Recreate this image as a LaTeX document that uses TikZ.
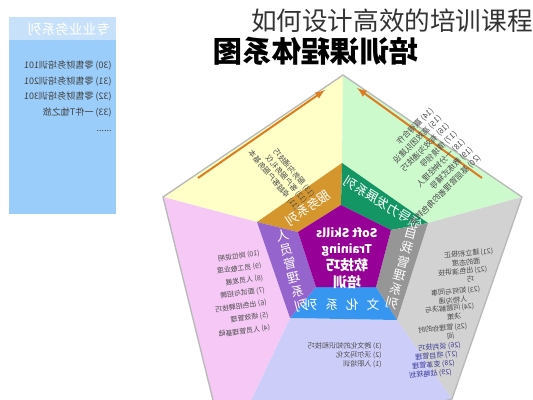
\documentclass[tikz,border=0pt]{standalone}
\usepackage{fontspec}
\setmainfont{Noto Sans CJK SC}
\usepackage{graphicx}
\usepackage{xcolor}
\usepackage{tikz}

\definecolor{outyellow}{RGB}{255,255,200}
\definecolor{outgreen}{RGB}{205,250,205}
\definecolor{outgray}{RGB}{210,210,210}
\definecolor{outlav}{RGB}{205,205,250}
\definecolor{outpink}{RGB}{245,200,245}
\definecolor{bandorange}{RGB}{212,150,45}
\definecolor{bandgreen}{RGB}{20,150,100}
\definecolor{bandgray}{RGB}{150,150,150}
\definecolor{bandblue}{RGB}{55,150,240}
\definecolor{bandpurple}{RGB}{150,100,205}
\definecolor{corepurple}{RGB}{150,0,150}
\definecolor{panelblue}{RGB}{155,205,250}
\definecolor{panelhead}{RGB}{200,225,250}
\definecolor{arroworange}{RGB}{220,125,35}
\definecolor{listblue}{RGB}{60,60,150}

\newcommand{\fsz}[2]{\fontsize{#1pt}{#2pt}\selectfont}
\newcommand{\mirtext}[1]{\reflectbox{#1}}
\newcommand{\mirlines}[1]{\reflectbox{\begin{tabular}{@{}l@{}}#1\end{tabular}}}
\newcommand{\miritem}[3]{\reflectbox{\begin{tabular}{@{}l@{\,}l@{}}#1&#2\\&#3\end{tabular}}}

\tikzset{
  mirnote/.style={inner sep=0pt, text=black!70, font=\fsz{5.3}{6.8}},
  bandlabel/.style={inner sep=0pt, text=white, font=\fsz{9.5}{10}},
  arrowline/.style={draw=arroworange, line width=1.5pt, -latex},
}

\begin{document}
\begin{tikzpicture}[x=0.75pt,y=0.75pt,yscale=-1,xscale=1]

\useasboundingbox (0,0) rectangle (533,400);
\clip (0,0) rectangle (533,400);

\coordinate (ot) at (343,75);
\coordinate (or) at (522,197);
\coordinate (obr) at (452,399);
\coordinate (obl) at (226,453);
\coordinate (ol) at (163,197);

\coordinate (mt) at (342,163);
\coordinate (mr) at (428,223);
\coordinate (mbr) at (397,320);
\coordinate (mbl) at (290,318);
\coordinate (ml) at (257,222);

\coordinate (it) at (341,205);
\coordinate (ir) at (391,230);
\coordinate (ibr) at (376,287);
\coordinate (ibl) at (316,287);
\coordinate (il) at (298,232);

\fill[panelblue] (9,17) rectangle (116,214);

\fill[panelhead] (9,17) rectangle (116,40);

\fill[outyellow] (ol) -- (ot) -- (mt) -- (ml) -- cycle;

\fill[outgreen] (ot) -- (or) -- (mr) -- (mt) -- cycle;

\fill[outgray] (or) -- (obr) -- (mbr) -- (mr) -- cycle;

\fill[outlav] (obr) -- (obl) -- (mbl) -- (mbr) -- cycle;

\fill[outpink] (obl) -- (ol) -- (ml) -- (mbl) -- cycle;

\fill[bandorange] (ml) -- (mt) -- (it) -- (il) -- cycle;

\fill[bandgreen] (mt) -- (mr) -- (ir) -- (it) -- cycle;

\fill[bandgray] (mr) -- (mbr) -- (ibr) -- (ir) -- cycle;

\fill[bandblue] (mbr) -- (mbl) -- (ibl) -- (ibr) -- cycle;

\fill[bandpurple] (mbl) -- (ml) -- (il) -- (ibl) -- cycle;

\fill[corepurple] (it) -- (ir) -- (ibr) -- (ibl) -- (il) -- cycle;

\draw[gray!55, line width=1pt] (ol) -- (ot) -- (or) -- (obr) -- (obl) -- cycle;

\coordinate (ya1) at (198,178);
\coordinate (ya2) at (325,90);
\draw[arrowline] (ya1) -- (ya2);

\coordinate (ga1) at (482,178);
\coordinate (ga2) at (357,88);
\draw[arrowline] (ga1) -- (ga2);

\node[anchor=east, inner sep=0pt, text=black!80, font=\fsz{19.2}{21}] (title) at (533,21) {如何设计高效的培训课程};

\node[inner sep=0pt, text=black, font=\bfseries\fsz{22}{24}] (subtitle) at (316,51) {\mirtext{培训课程体系图}};

\node[inner sep=0pt, text=white, font=\fsz{10.3}{12}] (panelhead) at (69,29) {\mirtext{专业业务系列}};

\node[anchor=north east, inner sep=0pt, text=black!75, font=\fsz{6.8}{11.8}] (panellist) at (112,57) {\mirlines{(30) 零售财务培训101\\(31) 零售财务培训201\\(32) 零售财务培训301\\(33) 一件T恤之旅\\......}};

\node[inner sep=0pt, text=white, font=\bfseries\fsz{9}{12}] (core) at (347,259) {\reflectbox{\begin{tabular}{@{}c@{}}Soft Skills\\Training\\{\fsz{10.5}{12}软技巧}\\{\fsz{10.5}{12}培训}\end{tabular}}};

\node[bandlabel, rotate=34] (svc) at (308,208) {\mirtext{服务系列}};

\node[bandlabel, rotate=-32] (lead) at (383,203) {\mirtext{领导力发展系列}};

\node[bandlabel, rotate=-15] (self) at (401,270) {\mirtext{\begin{tabular}{@{}c@{}}自\\我\\管\\理\\系\\列\end{tabular}}};

\node[bandlabel] (cult) at (342,305) {\mirtext{文\hspace{6pt}化\hspace{6pt}系\hspace{6pt}列}};

\node[bandlabel, rotate=15] (ppl) at (292,272) {\mirtext{\begin{tabular}{@{}c@{}}人\\员\\管\\理\\系\\列\end{tabular}}};

\node[mirnote, rotate=-50, font=\fsz{5.6}{7.5}] (yellowlist) at (281,174) {\mirlines{(13) 服务沟通技巧\\(12) 客户服务礼仪\\(11) 卓越客户服务基本}};

\node[mirnote, rotate=45, font=\fsz{6}{8.3}] (greenlist) at (422,167) {\mirlines{(14) 赢得合作\\(15) 高效团队建设\\(16) 有效沟通技巧\\(17) 情境领导\\(18) 一分钟经理人\\(19) 教练式辅导\\(20) 基层管理者的角色转变}};

\node[mirnote, anchor=east, rotate=8, font=\fsz{5.2}{9.4}] (pinklist) at (265,290) {\mirlines{(10) 岗位说明\\(9) 员工敬业度\\(8) 人员发展\\(7) 面试与招聘\\(6) 出色招聘技巧\\(5) 绩效管理\\(4) 人员管理基础}};

\node[mirnote, anchor=east] (lavlist) at (382,356) {\mirlines{(3) 跨文化的知识和技巧\\(2) 沃尔玛文化\\(1) 入职培训}};

\node[mirnote, anchor=north east, rotate=5] (g21) at (493,247) {\miritem{(21)}{建立积极正}{面的态度}};

\node[mirnote, anchor=north east, rotate=5] (g22) at (487,265) {\miritem{(22)}{出色演讲技}{巧}};

\node[mirnote, anchor=north east, rotate=5] (g23) at (480,285) {\miritem{(23)}{如何与同事}{人物沟通}};

\node[mirnote, anchor=north east, rotate=5] (g24) at (474,302) {\miritem{(24)}{问题解决与}{决策}};

\node[mirnote, anchor=north east, rotate=5] (g25) at (467,322) {\miritem{(25)}{管理你的时}{间}};

\node[mirnote, anchor=east, rotate=5, text=listblue] (g26) at (461,345) {\mirtext{(26) 谈判技巧}};

\node[mirnote, anchor=east, rotate=5, text=listblue] (g27) at (458,354) {\mirtext{(27) 项目管理}};

\node[mirnote, anchor=east, rotate=5, text=listblue] (g28) at (455,363) {\mirtext{(28) 变革管理}};

\node[mirnote, anchor=east, rotate=5, text=listblue] (g29) at (452,372) {\mirtext{(29) 战略规划}};

\end{tikzpicture}
\end{document}
